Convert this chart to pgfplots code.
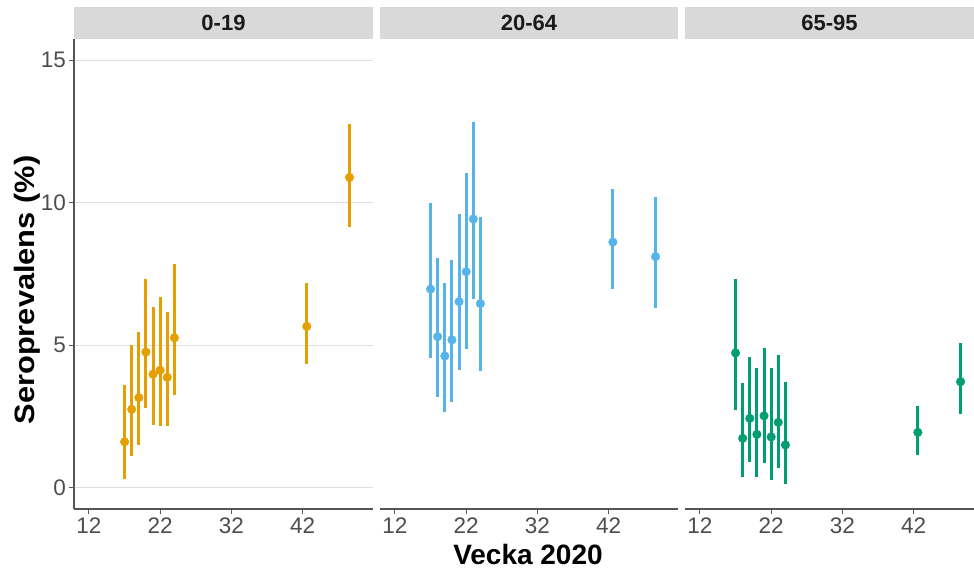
\documentclass[border=0pt]{standalone}
\usepackage{fontspec}
\setmainfont{Liberation Sans}
\usepackage{graphicx}
\usepackage{pgfplots}
\usepackage{pgfplotstable}
\pgfplotsset{compat=1.18}
\definecolor{c1}{HTML}{E69F00}
\definecolor{c2}{HTML}{56B4E9}
\definecolor{c3}{HTML}{009E73}
\definecolor{stripc}{HTML}{D9D9D9}
\definecolor{gridc}{HTML}{DEDEDE}
\definecolor{axc}{HTML}{555555}
\definecolor{tickc}{HTML}{4D4D4D}
\definecolor{titc}{HTML}{1A1A1A}

\pgfplotstableread{
x y lo hi
17 1.61 0.30 3.59
18 2.75 1.12 5.02
19 3.16 1.49 5.46
20 4.76 2.78 7.32
21 3.98 2.20 6.33
22 4.12 2.17 6.69
23 3.87 2.15 6.15
24 5.26 3.24 7.86
42.6 5.66 4.35 7.20
48.6 10.89 9.16 12.78
}\dA
\pgfplotstableread{
x y lo hi
17 6.97 4.56 9.98
18 5.30 3.18 8.06
19 4.62 2.64 7.20
20 5.19 3.02 8.00
21 6.53 4.12 9.61
22 7.58 4.85 11.03
23 9.43 6.62 12.83
24 6.46 4.09 9.49
42.6 8.62 6.97 10.47
48.6 8.11 6.31 10.19
}\dB
\pgfplotstableread{
x y lo hi
17 4.73 2.72 7.32
18 1.73 0.39 3.66
19 2.43 0.91 4.59
20 1.87 0.36 4.21
21 2.52 0.85 4.91
22 1.78 0.27 4.20
23 2.29 0.69 4.66
24 1.50 0.12 3.71
42.6 1.94 1.15 2.87
48.6 3.72 2.60 5.08
}\dC

\pgfplotsset{
  panel/.style={
    scale only axis, height=470pt,
    xmin=9.9, ymin=-0.75, ymax=15.75,
    xtick={12,22,32,42}, ytick={0,5,10,15},
    ymajorgrids, grid style={gridc, line width=0.9pt},
    axis x line*=bottom,
    tick align=outside, major tick length=5pt,
    tick style={axc, line width=1pt},
    axis line style={axc, line width=1.1pt},
    xticklabel style={font=\fontsize{22.5}{24}\selectfont, text=tickc, inner sep=2pt, yshift=-2pt},
    yticklabel style={font=\fontsize{22.5}{24}\selectfont, text=tickc, inner sep=3pt},
    /pgf/number format/assume math mode=true,
    clip=false,
    anchor=south west,
  },
  ebar/.style={only marks, mark=*, mark size=4.3pt, #1, mark options={#1},
    error bars/.cd, y dir=both, y explicit, error mark=none,
    error bar style={line width=3pt, #1}},
}
\newcommand{\strip}[1]{%
  \fill[stripc] (rel axis cs:0,1) rectangle ([yshift=32pt]rel axis cs:1,1);
  \node[font=\bfseries\fontsize{22}{24}\selectfont, text=titc] at ([yshift=16pt]rel axis cs:0.5,1) {#1};
}

\begin{document}
\begin{tikzpicture}
\useasboundingbox (0,0) rectangle (974pt,572pt);
% panel 1
\begin{axis}[panel, at={(74pt,63pt)}, width=299pt, xmax=51.9, axis y line*=left]
\addplot[ebar=c1] table[x=x, y=y, y error plus expr=\thisrow{hi}-\thisrow{y}, y error minus expr=\thisrow{y}-\thisrow{lo}] {\dA};
\strip{0-19}
\end{axis}
% panel 2
\begin{axis}[panel, at={(380pt,63pt)}, width=298pt, xmax=51.75, axis y line=none, yticklabels={}, ytick style={draw=none}]
\addplot[ebar=c2] table[x=x, y=y, y error plus expr=\thisrow{hi}-\thisrow{y}, y error minus expr=\thisrow{y}-\thisrow{lo}] {\dB};
\strip{20-64}
\end{axis}
% panel 3
\begin{axis}[panel, at={(685pt,63pt)}, width=289pt, xmax=50.49, axis y line=none, yticklabels={}, ytick style={draw=none}]
\addplot[ebar=c3] table[x=x, y=y, y error plus expr=\thisrow{hi}-\thisrow{y}, y error minus expr=\thisrow{y}-\thisrow{lo}] {\dC};
\strip{65-95}
\end{axis}
\node[rotate=90, anchor=base, font=\bfseries\fontsize{28}{30}\selectfont] at (34pt,282pt) {\scalebox{1.1}[1]{Seroprevalens (\%)}};
\node[anchor=base, font=\bfseries\fontsize{28}{30}\selectfont] at (528pt,7pt) {Vecka 2020};
\end{tikzpicture}
\end{document}
